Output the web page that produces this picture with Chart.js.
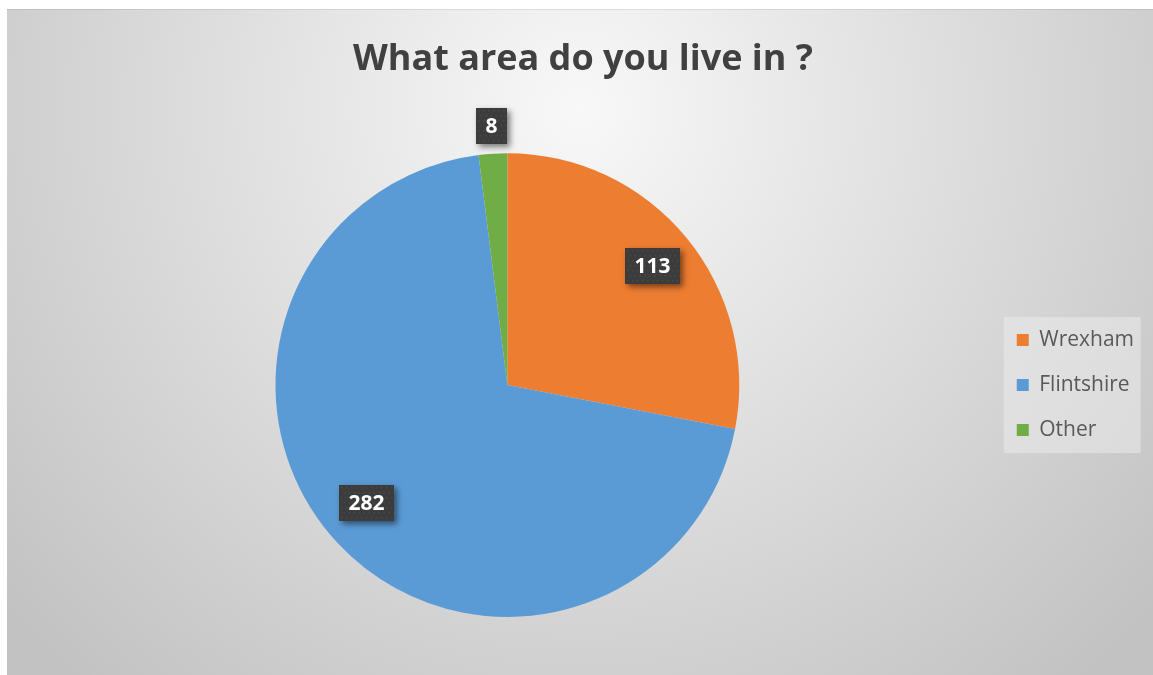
<!DOCTYPE html>
<html>
<head>
<meta charset="utf-8">
<script src="https://cdn.jsdelivr.net/npm/chart.js@4.4.0/dist/chart.umd.min.js"></script>
<style>
  html, body { margin: 0; padding: 0; background: #fff; }
</style>
</head>
<body>
<canvas id="graph" width="1153" height="675"></canvas>
<script>
// data
const areas = ['Wrexham', 'Flintshire', 'Other'];
const counts = [113, 282, 8];
const sliceColors = ['#ED7D31', '#5B9BD5', '#70AD47'];

// grey radial backdrop + legend panel
const backdrop = {
  id: 'backdrop',
  beforeDraw(chart) {
    const ctx = chart.ctx;
    ctx.save();
    ctx.fillStyle = '#fff';
    ctx.fillRect(0, 0, chart.width, chart.height);
    const g = ctx.createRadialGradient(580, 110, 0, 580, 110, 760);
    g.addColorStop(0, '#f8f8f8');
    g.addColorStop(1, '#c2c2c2');
    ctx.fillStyle = g;
    ctx.fillRect(7, 9, chart.width - 7, chart.height - 9);
    ctx.fillStyle = 'rgba(0,0,0,0.08)';
    ctx.fillRect(7, 9, chart.width - 7, 1);

    const hb = chart.legend.legendHitBoxes;
    if (hb && hb.length) {
      const first = hb[0], last = hb[hb.length - 1];
      const top = first.top + first.height / 2 - 23;
      const bottom = last.top + last.height / 2 + 23;
      ctx.fillStyle = 'rgba(235,235,235,0.55)';
      ctx.fillRect(first.left - 13, top, 137, bottom - top);
    }
    ctx.restore();
  }
};

// dark value boxes on the slices
const valueBoxes = {
  id: 'valueBoxes',
  afterDatasetsDraw(chart, args, opts) {
    const ctx = chart.ctx;
    const meta = chart.getDatasetMeta(0);
    meta.data.forEach((arc, i) => {
      const p = arc.getProps(['x', 'y', 'startAngle', 'endAngle', 'outerRadius'], true);
      const mid = (p.startAngle + p.endAngle) / 2 + opts.turn[i];
      const r = p.outerRadius * opts.reach[i];
      const cx = p.x + Math.cos(mid) * r;
      const cy = p.y + Math.sin(mid) * r;
      const text = String(chart.data.datasets[0].data[i]);
      ctx.save();
      ctx.font = opts.font;
      const w = Math.round(ctx.measureText(text).width + 19);
      const h = 36;
      const x0 = Math.round(cx - w / 2), y0 = Math.round(cy - h / 2);
      ctx.shadowColor = 'rgba(0,0,0,0.5)';
      ctx.shadowBlur = 6;
      ctx.shadowOffsetX = 3;
      ctx.shadowOffsetY = 3;
      ctx.fillStyle = '#3c3c3c';
      ctx.fillRect(x0, y0, w, h);
      ctx.shadowColor = 'transparent';
      // faint dotted texture
      ctx.fillStyle = 'rgba(255,255,255,0.07)';
      for (let yy = y0 + 2; yy < y0 + h; yy += 5) {
        for (let xx = x0 + ((yy - y0) % 10 === 2 ? 2 : 4.5); xx < x0 + w; xx += 5) {
          ctx.fillRect(xx, yy, 1.5, 1.5);
        }
      }
      ctx.fillStyle = '#fff';
      ctx.textAlign = 'center';
      ctx.textBaseline = 'middle';
      ctx.fillText(text, x0 + w / 2, y0 + h / 2 + 1);
      ctx.restore();
    });
  }
};

new Chart(document.getElementById('graph'), {
  type: 'pie',
  data: {
    labels: areas,
    datasets: [{
      data: counts,
      backgroundColor: sliceColors,
      borderWidth: 0
    }]
  },
  options: {
    responsive: false,
    animation: false,
    devicePixelRatio: 1,
    layout: { padding: { left: 22, right: 9, top: 10, bottom: 58 } },
    plugins: {
      title: {
        display: true,
        text: 'What area do you live in ?',
        color: '#404040',
        font: { family: "'Open Sans', sans-serif", size: 36, weight: 'bold' },
        padding: { top: 28, bottom: 72 }
      },
      legend: {
        position: 'right',
        fullSize: false,
        labels: {
          boxWidth: 12,
          boxHeight: 12,
          padding: 24,
          color: '#595959',
          font: { family: "'Open Sans', sans-serif", size: 21 }
        }
      },
      tooltip: { enabled: false },
      valueBoxes: {
        reach: [0.81, 0.79, 1.12],
        turn: [0, 0.056, 0],
        font: "bold 21px 'Open Sans', sans-serif"
      }
    }
  },
  plugins: [backdrop, valueBoxes]
});
</script>
</body>
</html>
